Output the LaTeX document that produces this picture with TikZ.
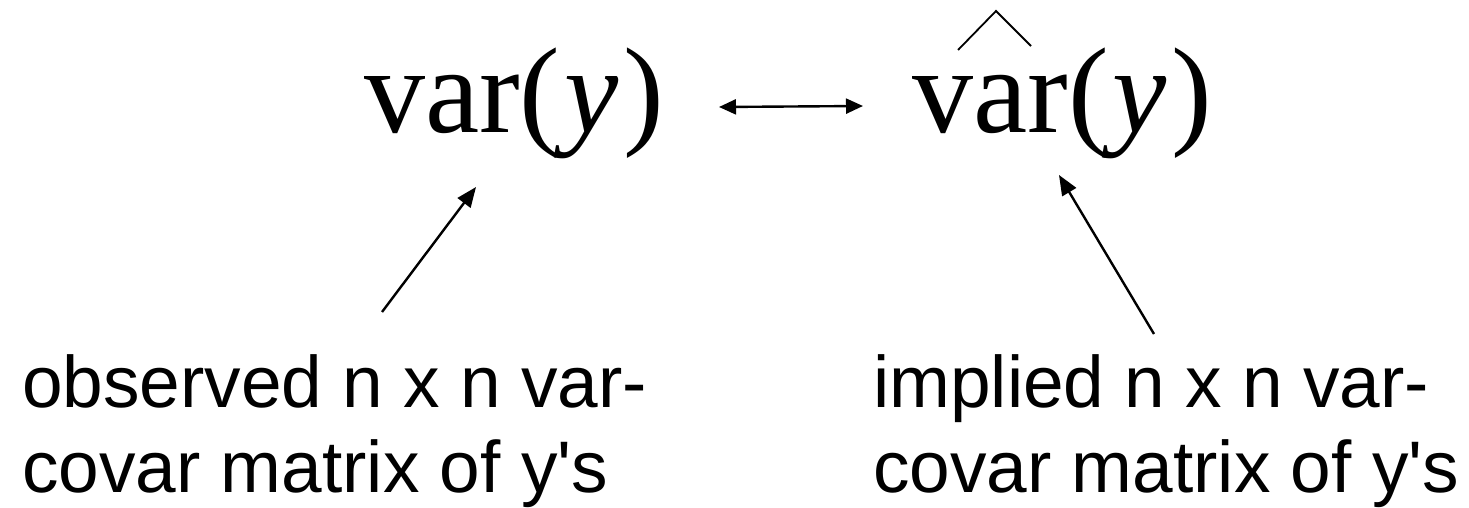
\documentclass[tikz,border=0pt]{standalone}
\usepackage{fontspec}
\setmainfont{Liberation Serif}
\newfontfamily\arialfont{Liberation Sans}
\usetikzlibrary{arrows.meta}
\tikzset{
  bigmath/.style={inner sep=0pt, anchor=base west, font=\fontsize{122}{122}\selectfont},
  label/.style={inner sep=0pt, anchor=base west, align=left, font=\arialfont\fontsize{73}{85}\selectfont},
  conn/.style={line width=2.4pt, -{Triangle[length=20pt,width=16pt]}},
  dconn/.style={line width=2.4pt, {Triangle[length=17pt,width=15pt]}-{Triangle[length=17pt,width=15pt]}},
  hatline/.style={line width=1.8pt}
}
\begin{document}
\begin{tikzpicture}[x=1pt,y=-1pt]
\useasboundingbox (0,0) rectangle (1469,508);
\node[bigmath] (lv) at (364,132) {var(\kern0.03em\textit{y}\kern0.04em)};
\node[bigmath] (rv) at (912,132) {var(\kern0.03em\textit{y}\kern0.04em)};
\coordinate (hatL) at (958,50);
\coordinate (hatT) at (996,11);
\coordinate (hatR) at (1031,46);
\draw[hatline] (hatL) -- (hatT) -- (hatR);
\coordinate (dl) at (719,107);
\coordinate (dr) at (863,106);
\draw[dconn] (dl) -- (dr);
\node[label] (lt) at (22,492) {observed n x n var-\\covar matrix of y's};
\node[label] (rt) at (873,492) {implied n x n var-\\covar matrix of y's};
\coordinate (la) at (382,312);
\coordinate (lb) at (476,187);
\coordinate (ra) at (1154,334);
\coordinate (rb) at (1059,175);
\draw[conn] (la) -- (lb);
\draw[conn] (ra) -- (rb);
\end{tikzpicture}
\end{document}
